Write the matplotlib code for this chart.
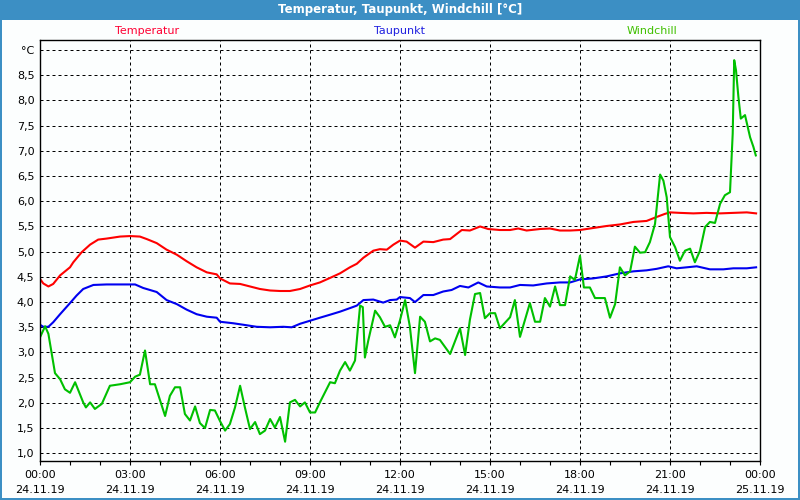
import matplotlib
matplotlib.use('Agg')
import matplotlib.pyplot as plt
from matplotlib.patches import Rectangle
from matplotlib.ticker import MultipleLocator

# hours since 24.11.19 00:00
temp_h = [0, 0.11, 0.28, 0.44, 0.67, 1.0, 1.11, 1.39, 1.67, 1.94, 2.22, 2.67, 3.0, 3.33, 3.56, 3.89,
          4.22, 4.56, 4.89, 5.22, 5.56, 5.89, 6.0,
          6.33, 6.67, 7.0, 7.33, 7.67, 8.0, 8.33, 8.67, 9.0, 9.33, 9.67, 10.0, 10.33, 10.56, 10.78,
          11.11, 11.33, 11.56, 11.78, 12.0,
          12.22, 12.5, 12.78, 13.11, 13.44, 13.67, 14.06, 14.33, 14.67, 14.94, 15.33, 15.67, 15.94,
          16.22, 16.67, 17.0, 17.33, 17.67, 18.0,
          18.44, 18.89, 19.33, 19.78, 20.22, 20.56, 20.83, 21.0, 21.33, 21.78, 22.22, 22.67, 23.11,
          23.56, 23.87]
temp = [4.46, 4.37, 4.31, 4.36, 4.53, 4.69, 4.79, 4.99, 5.14, 5.24, 5.26, 5.30, 5.31, 5.30, 5.25, 5.17,
        5.04, 4.94, 4.81, 4.69, 4.59, 4.55, 4.47,
        4.37, 4.36, 4.31, 4.26, 4.23, 4.22, 4.22, 4.26, 4.33, 4.39, 4.48, 4.57, 4.69, 4.76, 4.88,
        5.02, 5.05, 5.04, 5.14, 5.22,
        5.20, 5.08, 5.20, 5.19, 5.24, 5.25, 5.43, 5.42, 5.50, 5.45, 5.43, 5.43, 5.46,
        5.42, 5.45, 5.46, 5.42, 5.42, 5.43,
        5.47, 5.51, 5.54, 5.59, 5.61, 5.69, 5.75, 5.78, 5.77, 5.76, 5.77, 5.76, 5.77,
        5.78, 5.76]

dew_h = [0, 0.11, 0.28, 0.44, 0.67, 1.0, 1.22, 1.44, 1.78, 2.22, 2.67, 3.17, 3.44, 3.89, 4.22, 4.56,
         4.89, 5.22, 5.56, 5.89, 6.0,
         6.44, 6.78, 7.22, 7.67, 8.11, 8.39, 8.67, 9.0, 9.33, 9.67, 10.0, 10.33, 10.56, 10.78, 11.11,
         11.44, 11.67, 11.89, 12.0,
         12.33, 12.5, 12.78, 13.11, 13.44, 13.72, 14.0, 14.28, 14.61, 14.89, 15.33, 15.67, 16.0,
         16.44, 16.89, 17.33, 17.67, 18.0,
         18.44, 18.89, 19.33, 19.78, 20.22, 20.56, 20.94, 21.22, 21.56, 21.89, 22.33, 22.78, 23.11,
         23.56, 23.87]
dew = [3.55, 3.51, 3.51, 3.60, 3.76, 3.98, 4.13, 4.26, 4.34, 4.35, 4.35, 4.35, 4.28, 4.20, 4.04, 3.96,
       3.85, 3.76, 3.71, 3.69, 3.61,
       3.58, 3.55, 3.51, 3.50, 3.51, 3.50, 3.57, 3.63, 3.69, 3.75, 3.81, 3.88, 3.93, 4.04, 4.05,
       3.99, 4.04, 4.05, 4.10,
       4.08, 4.00, 4.14, 4.14, 4.21, 4.24, 4.32, 4.29, 4.39, 4.31, 4.29, 4.29, 4.34,
       4.33, 4.37, 4.39, 4.39, 4.45,
       4.47, 4.51, 4.57, 4.61, 4.63, 4.66, 4.71, 4.67, 4.69, 4.71, 4.65, 4.65, 4.67,
       4.67, 4.69]

wind_h = [0, 0.17, 0.28, 0.5, 0.67, 0.83, 1.0, 1.17, 1.44, 1.53, 1.67, 1.83, 2.06, 2.33, 2.67, 3.0,
          3.17, 3.33, 3.5, 3.67, 3.83, 4.17, 4.33, 4.5, 4.67, 4.83, 5.0, 5.17, 5.33, 5.5, 5.67, 5.83, 6.0,
          6.17, 6.33, 6.5, 6.67, 6.83, 7.0, 7.17, 7.33, 7.5, 7.67, 7.83, 8.0, 8.17, 8.33, 8.5, 8.67,
          8.83, 9.0, 9.17, 9.33, 9.5, 9.67, 9.83, 10.0, 10.17, 10.33, 10.5, 10.58, 10.67, 10.76, 10.83,
          10.94, 11.17, 11.33, 11.5, 11.67, 11.83, 12.0,
          12.17, 12.33, 12.5, 12.67, 12.83, 13.0, 13.17, 13.33, 13.67, 14.0, 14.17, 14.33, 14.5, 14.67,
          14.83, 15.0, 15.17, 15.33, 15.67, 15.83, 16.0, 16.33, 16.5, 16.67, 16.83, 17.0, 17.17, 17.33,
          17.5, 17.67, 17.83, 18.0,
          18.13, 18.33, 18.5, 18.83, 19.0, 19.17, 19.33, 19.5, 19.67, 19.83, 20.0, 20.17, 20.33, 20.5,
          20.67, 20.78, 20.89, 21.0, 21.17, 21.33, 21.5, 21.67, 21.83, 22.0, 22.17, 22.33, 22.5, 22.67,
          22.83, 23.0, 23.09, 23.14, 23.2, 23.28, 23.36, 23.5, 23.67, 23.78, 23.86]
wind = [3.30, 3.52, 3.37, 2.59, 2.47, 2.27, 2.20, 2.41, 2.01, 1.91, 2.01, 1.88, 1.98, 2.34, 2.37, 2.41,
        2.52, 2.56, 3.04, 2.37, 2.37, 1.74, 2.14, 2.31, 2.31, 1.78, 1.65, 1.93, 1.60, 1.50, 1.86, 1.85, 1.64,
        1.45, 1.58, 1.91, 2.34, 1.91, 1.48, 1.62, 1.38, 1.45, 1.68, 1.51, 1.72, 1.23, 2.01, 2.06, 1.93,
        2.01, 1.81, 1.81, 2.01, 2.21, 2.41, 2.39, 2.64, 2.81, 2.64, 2.84, 3.37, 3.93, 3.90, 2.90,
        3.23, 3.83, 3.70, 3.51, 3.54, 3.30, 3.64,
        4.04, 3.51, 2.59, 3.71, 3.61, 3.22, 3.28, 3.25, 2.97, 3.48, 2.95, 3.65, 4.16, 4.18,
        3.68, 3.78, 3.78, 3.48, 3.70, 4.04, 3.31, 3.98, 3.61, 3.61, 4.08, 3.91, 4.31, 3.94,
        3.94, 4.51, 4.44, 4.92,
        4.29, 4.29, 4.08, 4.08, 3.69, 3.96, 4.69, 4.53, 4.61, 5.10, 4.98, 4.99, 5.19, 5.55,
        6.53, 6.41, 6.08, 5.29, 5.09, 4.82, 5.02, 5.06, 4.79, 5.02, 5.49, 5.59, 5.57, 5.95,
        6.12, 6.18, 7.34, 8.80, 8.60, 8.07, 7.64, 7.71, 7.27, 7.08, 6.91]

xtick_labels = ['00:00\n24.11.19', '03:00\n24.11.19', '06:00\n24.11.19', '09:00\n24.11.19',
                '12:00\n24.11.19', '15:00\n24.11.19', '18:00\n24.11.19', '21:00\n24.11.19',
                '00:00\n25.11.19']
ytick_vals = [1.0, 1.5, 2.0, 2.5, 3.0, 3.5, 4.0, 4.5, 5.0, 5.5, 6.0, 6.5, 7.0, 7.5, 8.0, 8.5, 9.0]

bg = '#FCFEFE'
frame_blue = '#3C8FC4'

fig = plt.figure(figsize=(8, 5), dpi=100, facecolor=bg)

# window frame + title bar
fig.patches.append(Rectangle((0, 0.96), 1, 0.04, transform=fig.transFigure,
                             facecolor=frame_blue, edgecolor='none'))
fig.patches.append(Rectangle((0, 0), 0.0025, 1, transform=fig.transFigure,
                             facecolor=frame_blue, edgecolor='none'))
fig.patches.append(Rectangle((0.9975, 0), 0.0025, 1, transform=fig.transFigure,
                             facecolor=frame_blue, edgecolor='none'))
fig.patches.append(Rectangle((0, 0), 1, 0.004, transform=fig.transFigure,
                             facecolor=frame_blue, edgecolor='none'))
fig.text(0.5, 0.98, 'Temperatur, Taupunkt, Windchill [°C]', color='white', fontsize=8.5,
         fontweight='bold', ha='center', va='center')

ax = fig.add_axes([0.05, 0.0786, 0.9, 0.8414])
ax.set_facecolor(bg)

ax.plot(temp_h, temp, color='#FF0000', lw=1.5)
ax.plot(dew_h, dew, color='#0000F0', lw=1.5)
ax.plot(wind_h, wind, color='#00C000', lw=1.5)

ax.set_xlim(0, 24)
ax.set_ylim(0.853, 9.2)

ax.set_xticks(range(0, 25, 3))
ax.set_xticklabels(xtick_labels)
ax.xaxis.set_minor_locator(MultipleLocator(1))
ax.tick_params(axis='x', which='both', direction='out', length=3, width=0.8,
               labelsize=8, pad=4, colors='black')
ax.set_yticks(ytick_vals)
ax.set_yticklabels([('%.1f' % v).replace('.', ',') for v in ytick_vals[:-1]] + ['°C'])
ax.tick_params(axis='y', length=0, labelsize=8, pad=4)
for lbl in ax.get_xticklabels():
    lbl.set_linespacing(1.55)

ax.grid(True, which='major', color='black', lw=0.72, linestyle=(0, (3, 3)))
for s in ax.spines.values():
    s.set_color('black')
    s.set_linewidth(1.0)

fig.text(0.184, 0.938, 'Temperatur', color='#FF0033', fontsize=8, ha='center', va='center')
fig.text(0.499, 0.938, 'Taupunkt', color='#2020E0', fontsize=8, ha='center', va='center')
fig.text(0.815, 0.938, 'Windchill', color='#40C000', fontsize=8, ha='center', va='center')

fig.savefig('out.png', dpi=100, facecolor=bg)
